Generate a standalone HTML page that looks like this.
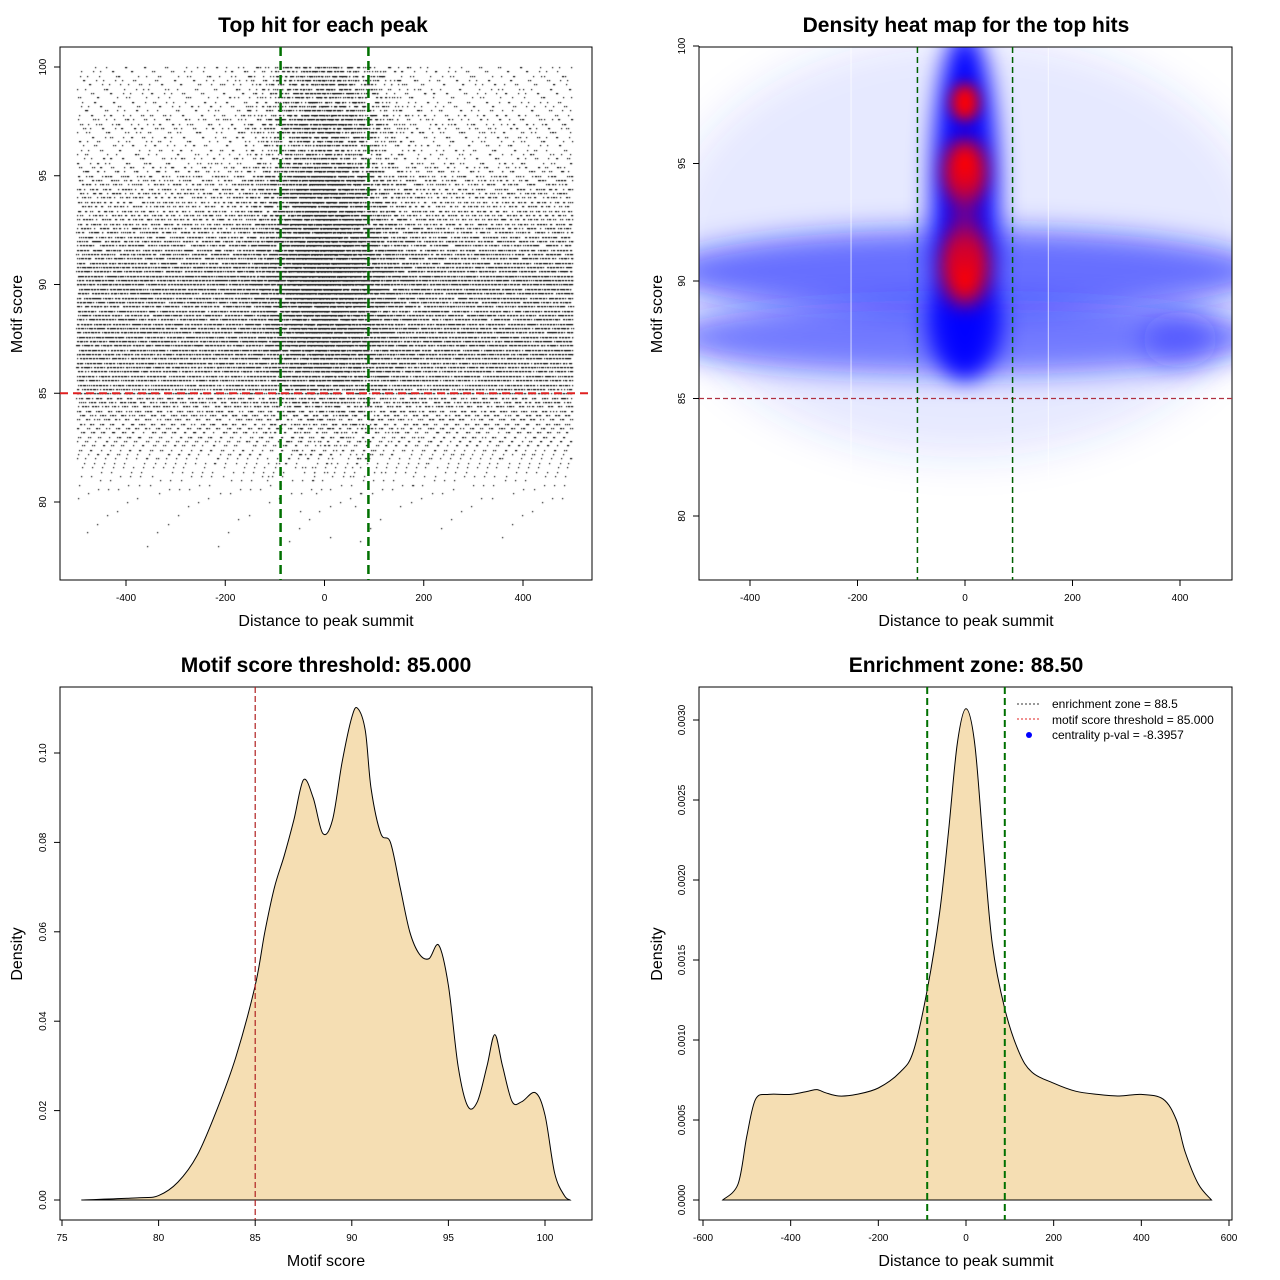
<!DOCTYPE html>
<html><head><meta charset="utf-8">
<style>
body{margin:0;background:#fff;}
#wrap{position:relative;width:1280px;height:1280px;}
svg,canvas{position:absolute;left:0;top:0;}
text{font-family:"Liberation Sans",sans-serif;}
</style></head>
<body>
<div id="wrap">
<svg id="heat" width="1280" height="1280"></svg>
<canvas id="dots" width="1280" height="1280"></canvas>
<svg id="main" width="1280" height="1280"></svg>
</div>
<script>
// ---------- data ----------
const scoreDensX = [76,79,80,81,82,83,84,85,85.5,86,86.5,87,87.5,88,88.5,89,89.5,90,90.3,90.7,91,91.5,92,92.5,93,93.5,94,94.5,95,95.5,96,96.5,97,97.4,97.8,98.3,98.8,99.5,100,100.5,101,101.3];
const scoreDensY = [0,0.0005,0.001,0.004,0.01,0.02,0.032,0.048,0.06,0.07,0.077,0.085,0.094,0.09,0.082,0.085,0.098,0.108,0.110,0.105,0.092,0.082,0.080,0.07,0.06,0.055,0.054,0.057,0.048,0.03,0.021,0.022,0.030,0.037,0.03,0.022,0.022,0.024,0.019,0.006,0.001,0];
const distDensX = [-555,-520,-500,-480,-450,-400,-360,-340,-320,-290,-250,-200,-150,-120,-88,-60,-40,-20,0,20,40,60,88,120,150,200,250,300,350,400,450,480,500,530,560];
const distDensY = [0,1,4,6.3,6.6,6.6,6.8,6.9,6.7,6.5,6.6,7.0,8.0,9.3,13.2,18,23,28.5,30.7,28.5,22,16,12,9.3,8,7.3,6.8,6.6,6.5,6.6,6.3,5,3,1,0]; // x1e-4
const heatBlobs = [ // [distance, score, rxDist, ryScore, color, opacity, blur]
 [0,91.5,560,9,"#3040ff",0.12,20],
 [0,90.4,560,1.8,"#1020ff",0.6,14],
 [0,87.6,560,1.6,"#1020ff",0.55,14],
 [400,87.5,70,1.2,"#1020ff",0.35,14],
 [0,93.3,62,7.4,"#0000ff",1.0,12],
 [0,88,70,2,"#0000ff",0.8,12],
 [0,90.6,42,1.6,"#ff0000",1.0,10],
 [0,94.7,38,1.3,"#ff0000",1.0,9],
 [0,97.6,26,0.8,"#ff0000",1.0,7],
 [0,92.5,26,2.2,"#b00050",0.6,9]
];
const enrichment = 88.5;
const threshold = 85;
const scatterXTicks=[-400,-200,0,200,400], scatterYTicks=[80,85,90,95,100];
const heatYTicks=[80,85,90,95,100];
const densXTicks=[75,80,85,90,95,100], densYTicks=[0,0.02,0.04,0.06,0.08,0.10];
const distXTicks=[-600,-400,-200,0,200,400,600], distYTicks=[0,5,10,15,20,25,30];

// ---------- helpers ----------
const NS="http://www.w3.org/2000/svg";
const main=document.getElementById('main');
function el(p,tag,a){const e=document.createElementNS(NS,tag);for(const k in a)e.setAttribute(k,a[k]);p.appendChild(e);return e;}
function txt(p,x,y,s,size,opt){opt=opt||{};const t=el(p,'text',{x:x,y:y,'font-size':size,'text-anchor':opt.anchor||'middle','font-weight':opt.bold?'bold':'normal'});if(opt.rot)t.setAttribute('transform',`rotate(-90 ${x} ${y})`);t.textContent=s;return t;}
function lin(d0,d1,r0,r1){return v=>r0+(v-d0)*(r1-r0)/(d1-d0);}
function frame(x0,y0,x1,y1,name){const r=el(main,'rect',{x:x0,y:y0,width:x1-x0,height:y1-y0,fill:'none',stroke:'#000','stroke-width':1});}
function xAxis(ticks,sx,yb,fmt){const g=el(main,'g',{});
 el(g,'line',{x1:sx(ticks[0]),x2:sx(ticks[ticks.length-1]),y1:yb,y2:yb,stroke:'#000'});
 ticks.forEach(t=>{el(g,'line',{x1:sx(t),x2:sx(t),y1:yb,y2:yb+6,stroke:'#000'});txt(g,sx(t),yb+21,fmt?fmt(t):t,10);});}
function yAxis(ticks,sy,xl,fmt){const g=el(main,'g',{});
 el(g,'line',{x1:xl,x2:xl,y1:sy(ticks[0]),y2:sy(ticks[ticks.length-1]),stroke:'#000'});
 ticks.forEach(t=>{el(g,'line',{x1:xl-6,x2:xl,y1:sy(t),y2:sy(t),stroke:'#000'});txt(g,xl-14,sy(t),fmt?fmt(t):t,10,{rot:true});});}
function smoothPath(xs,ys,sx,sy){let pts=xs.map((x,i)=>[sx(x),sy(ys[i])]);let d=`M${pts[0][0]},${pts[0][1]}`;
 for(let i=0;i<pts.length-1;i++){const p0=pts[Math.max(0,i-1)],p1=pts[i],p2=pts[i+1],p3=pts[Math.min(pts.length-1,i+2)];
  const c1=[p1[0]+(p2[0]-p0[0])/6,p1[1]+(p2[1]-p0[1])/6],c2=[p2[0]-(p3[0]-p1[0])/6,p2[1]-(p3[1]-p1[1])/6];
  d+=` C${c1[0]},${c1[1]} ${c2[0]},${c2[1]} ${p2[0]},${p2[1]}`;}return d;}
function interp(xs,ys,x){if(x<=xs[0])return ys[0];for(let i=1;i<xs.length;i++)if(x<=xs[i]){const f=(x-xs[i-1])/(xs[i]-xs[i-1]);return ys[i-1]+f*(ys[i]-ys[i-1]);}return ys[ys.length-1];}

// ---------- panel 1: scatter ----------
{
 const sx=lin(0,400,324.5,523), sy=lin(80,100,502,67);
 frame(60,47,592,580,'scatter-plot-area');
 const t=txt(main,323,32,'Top hit for each peak',21,{bold:true});
 xAxis(scatterXTicks,sx,580); yAxis(scatterYTicks,sy,60);
 txt(main,326,626,'Distance to peak summit',16);
 txt(main,22,314,'Motif score',16,{rot:true});
 const ctx=document.getElementById('dots').getContext('2d');ctx.fillStyle='#000';
 function halton(i,b){let f=1,r=0;while(i>0){f/=b;r+=f*(i%b);i=Math.floor(i/b);}return r;}
 let idx=1;
 for(let s=78;s<=100.001;s+=0.2){
  const n=Math.round(interp(scoreDensX,scoreDensY,s)*6000);
  const cf=Math.min(0.6,Math.max(0.08,0.1+0.04*(s-85)));
  for(let k=0;k<n;k++,idx++){
   const u=halton(idx,2),v=halton(idx,3),w=halton(idx,5);
   let x;
   if(w<cf){x=Math.sqrt(-2*Math.log(u+1e-6))*Math.cos(2*Math.PI*v)*70;if(x<-500||x>500)x=0;}
   else x=-500+1000*halton(idx,7);
   ctx.fillRect(Math.round(sx(x)),Math.round(sy(s)),1.2,1.2);
  }
 }
 const h=el(main,'line',{x1:60,x2:592,y1:sy(threshold),y2:sy(threshold),stroke:'#e02020','stroke-width':2,'stroke-dasharray':'8,5'});
 [-enrichment,enrichment].forEach(v=>{const l=el(main,'line',{x1:sx(v),x2:sx(v),y1:47,y2:580,stroke:'#007000','stroke-width':2.5,'stroke-dasharray':'9,5'});});
}

// ---------- panel 2: heat ----------
{
 const sx=lin(0,400,965,1180), sy=lin(80,100,516,46);
 const hs=document.getElementById('heat');
 const defs=el(hs,'defs',{});
 const cp=el(defs,'clipPath',{id:'cp'});el(cp,'rect',{x:699,y:47,width:533,height:533});
 const g=el(hs,'g',{'clip-path':'url(#cp)'});
 heatBlobs.forEach((b,i)=>{
  const f=el(defs,'filter',{id:'bl'+i,x:'-50%',y:'-50%',width:'200%',height:'200%'});el(f,'feGaussianBlur',{stdDeviation:b[6]});
  const e=el(g,'ellipse',{cx:sx(b[0]),cy:sy(b[1]),rx:Math.abs(sx(b[2])-sx(0)),ry:Math.abs(sy(b[3])-sy(0)),fill:b[4],'fill-opacity':b[5],filter:`url(#bl${i})`});});
 [-212,155].forEach(v=>el(g,'line',{x1:sx(v),x2:sx(v),y1:47,y2:580,stroke:'#fff','stroke-width':1,'stroke-opacity':0.7}));
 frame(699,47,1232,580,'heatmap-plot-area');
 const t=txt(main,966,32,'Density heat map for the top hits',21,{bold:true});
 xAxis(scatterXTicks,sx,580); yAxis(heatYTicks,sy,699);
 txt(main,966,626,'Distance to peak summit',16);
 txt(main,662,314,'Motif score',16,{rot:true});
 el(main,'line',{x1:699,x2:1232,y1:sy(threshold),y2:sy(threshold),stroke:'#b03040','stroke-width':1.2,'stroke-dasharray':'5,3'});
 [-enrichment,enrichment].forEach(v=>el(main,'line',{x1:sx(v),x2:sx(v),y1:47,y2:580,stroke:'#006000','stroke-width':1.5,'stroke-dasharray':'6,4'}));
}

// ---------- panel 3: score density ----------
{
 const sx=lin(75,100,62,545), sy=lin(0,0.1,1200,753);
 frame(60,687,592,1220,'score-density-plot-area');
 const t=txt(main,326,672,'Motif score threshold: 85.000',21,{bold:true});
 xAxis(densXTicks,sx,1220); yAxis(densYTicks,sy,60,v=>v.toFixed(2));
 txt(main,326,1266,'Motif score',16);
 txt(main,22,954,'Density',16,{rot:true});
 const d=smoothPath(scoreDensX,scoreDensY,sx,sy);
 const p=el(main,'path',{d:d+` L${sx(101.3)},${sy(0)} L${sx(76)},${sy(0)} Z`,fill:'#f5deb3',stroke:'#000','stroke-width':1});
 el(main,'line',{x1:sx(threshold),x2:sx(threshold),y1:687,y2:1220,stroke:'#b02020','stroke-width':1.2,'stroke-dasharray':'6,3'});
}

// ---------- panel 4: distance density ----------
{
 const sx=lin(0,600,966,1229), sy=lin(0,30,1200,720);
 frame(699,687,1232,1220,'distance-density-plot-area');
 const t=txt(main,966,672,'Enrichment zone: 88.50',21,{bold:true});
 xAxis(distXTicks,sx,1220); yAxis(distYTicks,sy,699,v=>(v/10000).toFixed(4));
 txt(main,966,1266,'Distance to peak summit',16);
 txt(main,662,954,'Density',16,{rot:true});
 const d=smoothPath(distDensX,distDensY,sx,sy);
 const p=el(main,'path',{d:d+' Z',fill:'#f5deb3',stroke:'#000','stroke-width':1});
 [-enrichment,enrichment].forEach(v=>el(main,'line',{x1:sx(v),x2:sx(v),y1:687,y2:1220,stroke:'#007000','stroke-width':2,'stroke-dasharray':'7,4'}));
 const lg=el(main,'g',{});
 el(lg,'line',{x1:1017,x2:1041,y1:704,y2:704,stroke:'#333','stroke-dasharray':'2,2'});
 el(lg,'line',{x1:1017,x2:1041,y1:719,y2:719,stroke:'#e02020','stroke-dasharray':'2,2'});
 el(lg,'circle',{cx:1029,cy:735,r:3,fill:'#0000ff'});
 txt(lg,1052,708,'enrichment zone = 88.5',12,{anchor:'start'});
 txt(lg,1052,724,'motif score threshold = 85.000',12,{anchor:'start'});
 txt(lg,1052,739,'centrality p-val = -8.3957',12,{anchor:'start'});
}
</script>
</body></html>
